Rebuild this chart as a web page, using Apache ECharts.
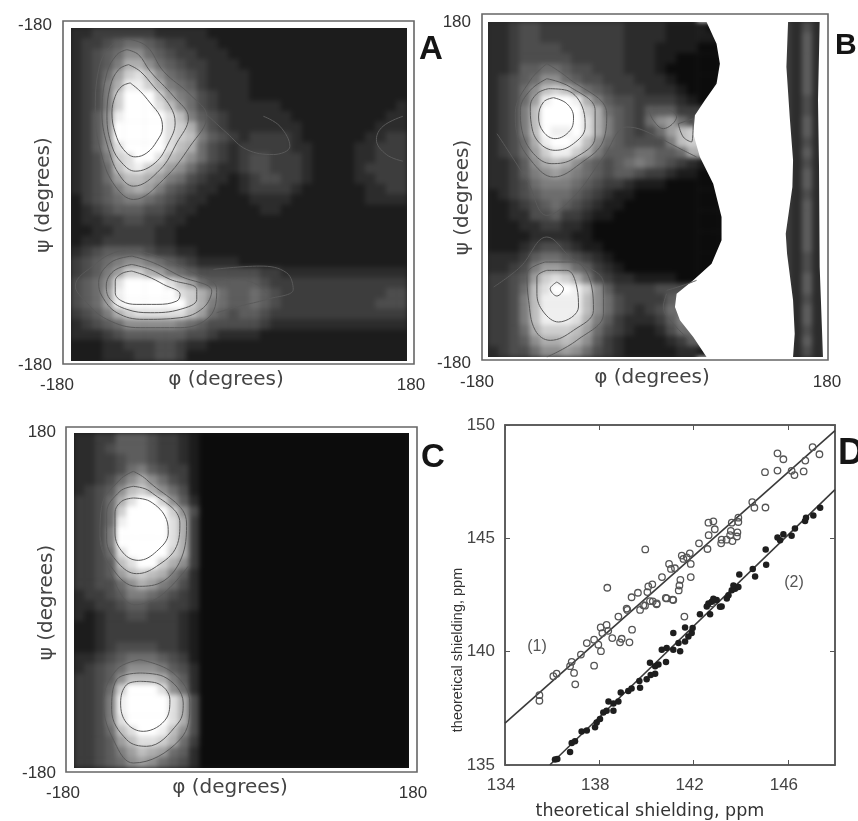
<!DOCTYPE html>
<html><head><meta charset="utf-8">
<style>html,body{margin:0;padding:0;background:#fff}
#h,#c{position:absolute;left:0;top:0;width:858px;height:821px}
#h{filter:blur(2.6px)}</style>
<script src="https://cdn.jsdelivr.net/npm/echarts@6/dist/echarts.min.js"></script>
</head><body><div id="h"></div><div id="c"></div>
<script>
// Gray level of each cell: 0 black .. f white, '.' = no data (white)
const heatA = [
"2233 3333 2222 2111 1111 1111 1111 1111",
"2334 5665 4332 2211 1111 1111 1111 1111",
"2345 6886 5433 2221 1111 1111 1111 1111",
"2345 7aa8 6543 3222 1111 1111 1111 1111",
"2346 9cdb 8654 3222 2111 1111 1111 1111",
"2347 aeec a765 3222 2111 1111 1111 1111",
"2347 cfff c976 4322 2111 1111 1111 1111",
"2347 cfff db86 4322 2222 1111 1111 1112",
"2358 efff fdb7 5432 2222 2111 1111 1122",
"2358 ffff fdca 6432 2222 2211 1111 1222",
"2358 ffff fdcb 7543 2333 3211 1111 2233",
"2358 dfff fdba 6432 3333 3221 1112 2333",
"2347 cdff dba8 6432 3443 3321 1112 2333",
"2346 bdec b986 4322 3443 3321 1112 3333",
"2346 9bba 9764 3221 2344 3321 1112 2333",
"2345 79a9 7543 2211 2333 3211 1111 2233",
"1345 6776 5432 2111 1222 2111 1111 2222",
"1234 5554 4322 1111 1122 1111 1111 1111",
"1223 3443 3221 1111 1111 1111 1111 1111",
"1122 3333 2211 1111 1111 1111 1111 1111",
"1223 3333 2211 1111 1111 1111 1111 1111",
"2345 5554 3322 1111 1111 1111 1111 1111",
"3456 7887 6543 2222 1111 1111 1111 1111",
"3457 9cca 9765 4444 4433 2222 2222 2222",
"4568 dfff fdb9 6555 5543 3333 3333 3333",
"4569 efff ffdc a865 5654 3333 3333 3344",
"4569 efff fffc a765 5654 3333 3333 3444",
"3457 acdd dddb 9654 5543 3333 3333 3333",
"2345 6888 8876 5444 4432 2222 2222 2222",
"2223 4555 5554 4322 2211 1111 1111 1111",
"1112 2333 4432 2111 1111 1111 1111 1111",
"1112 2233 4431 1111 1111 1111 1111 1111"];

const heatB = [
"2234 4333 3333 3222 2111 10.. .... 3242",
"2234 4333 3333 3222 2111 110. .... 3252",
"2234 4443 3333 3222 1111 000. .... 3252",
"2234 4444 3333 3222 1100 000. .... 3252",
"2235 5665 4433 3222 1000 000. .... 3252",
"2345 6886 5443 3322 2100 000. .... 3252",
"2346 8bcb 8654 3332 2210 00.. .... 3252",
"2346 9eff ea75 4433 3321 00.. .... 3242",
"2347 bfff fca6 5435 5533 3... .... 3242",
"2347 bfff fda7 5436 8964 4... .... 3252",
"2347 bfee fda7 5434 69bc c... .... 3252",
"2346 aeff eb86 5444 47bc c... .... 3242",
"2346 9cee ca75 5566 556a a... .... 3252",
"2235 8aba 8654 5676 5432 11.. .... 3242",
"2235 7898 7654 5543 3211 00.. .... 3252",
"2234 6777 6543 3211 1000 000. .... 3252",
"1234 5666 5432 1100 0000 000. .... 3242",
"1123 4565 4321 1000 0000 000. .... 3252",
"1122 4453 3211 0000 0000 000. .... 3252",
"1112 2332 2100 0000 0000 000. .... 3252",
"1111 2222 1100 0000 0000 000. .... 3252",
"1112 3443 2110 0000 0000 000. .... 3252",
"2223 5665 4321 0000 0000 000. .... 3242",
"2234 7998 6532 1000 0000 00.. .... 3242",
"3345 9cdc a743 2211 1100 0... .... 3252",
"3346 bdff ec85 3333 4445 .... .... 3252",
"3347 beee eb86 4333 356. .... .... 3242",
"3347 beee eb86 4323 466. .... .... 3252",
"3347 beee da75 3222 3577 .... .... 3252",
"3346 accc b964 3211 2466 .... .... 3242",
"3345 8aab a853 2111 1235 5... .... 3252",
"2344 6889 8643 2111 1122 11.. .... 3242"];

const heatC = [
"2233 5554 3321 0000 0000 0000 0000 0000",
"2234 5554 3321 0000 0000 0000 0000 0000",
"2233 4554 3321 0000 0000 0000 0000 0000",
"2233 4675 4331 0000 0000 0000 0000 0000",
"2234 68a8 6431 0000 0000 0000 0000 0000",
"2345 8bca 8641 0000 0000 0000 0000 0000",
"3346 adff c852 0000 0000 0000 0000 0000",
"3346 cfff fc84 0000 0000 0000 0000 0000",
"3346 efff fda3 0000 0000 0000 0000 0000",
"3347 ffff fda3 0000 0000 0000 0000 0000",
"3347 ffff fda3 0000 0000 0000 0000 0000",
"3346 dfff fca3 0000 0000 0000 0000 0000",
"3345 bdff ca83 0000 0000 0000 0000 0000",
"3345 9bcb a752 0000 0000 0000 0000 0000",
"3344 68a9 7642 0000 0000 0000 0000 0000",
"2334 5776 5432 0000 0000 0000 0000 0000",
"2233 4554 4332 0000 0000 0000 0000 0000",
"2123 3443 3321 0000 0000 0000 0000 0000",
"1123 3333 3321 0000 0000 0000 0000 0000",
"1123 3333 3321 0000 0000 0000 0000 0000",
"1123 4444 3321 0000 0000 0000 0000 0000",
"2234 5666 5431 0000 0000 0000 0000 0000",
"2345 6888 7542 0000 0000 0000 0000 0000",
"3345 8bbb a752 0000 0000 0000 0000 0000",
"3346 cfff d862 0000 0000 0000 0000 0000",
"3347 efff fda4 0000 0000 0000 0000 0000",
"3347 efff fda4 0000 0000 0000 0000 0000",
"3347 dfff fda4 0000 0000 0000 0000 0000",
"3346 bdff eb84 0000 0000 0000 0000 0000",
"3345 9bdd ca63 0000 0000 0000 0000 0000",
"3345 79ba 9652 0000 0000 0000 0000 0000",
"3345 6898 6542 0000 0000 0000 0000 0000"];

// Contour lines traced on the scan (scan coordinates of each panel's axes)
const contoursA = [
[[390,250],[420,275],[450,310],[480,350],[487,385],[470,425],[440,460],[405,472],[370,450],[345,400],[335,340],[345,290],[365,260]],
[[385,195],[420,215],[460,260],[510,320],[525,370],[505,430],[465,490],[405,515],[365,490],[335,440],[320,350],[330,260],[355,210]],
[[380,150],[415,165],[450,215],[520,290],[565,355],[530,430],[480,510],[400,560],[360,530],[325,450],[305,340],[320,220],[350,165]],
[[385,118],[440,140],[490,215],[570,285],[620,350],[570,440],[490,540],[400,600],[345,560],[305,470],[285,340],[295,210],[335,135]],
[[395,815],[440,830],[490,855],[540,885],[530,905],[470,915],[410,915],[365,905],[345,880],[345,845],[365,822]],
[[395,795],[450,810],[510,840],[590,870],[590,900],[540,930],[450,940],[380,930],[330,900],[318,860],[340,815]],
[[395,770],[460,790],[540,830],[635,875],[610,925],[540,955],[430,960],[350,940],[305,890],[295,850],[330,790]],
[[390,750],[470,770],[560,810],[650,870],[630,950],[540,985],[420,985],[320,960],[250,900],[225,860],[290,790],[340,760]]];
const tracesA = [
[[640,845],[700,840],[760,850],[800,880]],
[[650,940],[720,920],[800,900],[880,870],[860,820],[780,800],[640,810]],
[[620,345],[680,400],[740,450],[820,465],[870,440],[840,380],[790,350]],
[[1210,350],[1150,380],[1130,420],[1160,465],[1210,485]]];
const contoursB = [
[[370,292],[410,310],[430,350],[420,390],[375,415],[340,395],[325,350],[340,305]],
[[355,265],[410,270],[460,330],[465,380],[430,430],[375,450],[325,425],[303,370],[300,320],[320,280]],
[[350,235],[420,260],[495,330],[495,410],[430,475],[365,490],[310,460],[275,390],[270,330],[300,270]],
[[350,190],[410,230],[530,340],[520,420],[450,490],[370,530],[310,490],[260,400],[255,340],[300,240]],
[[655,325],[700,325],[740,350],[700,385],[670,360]],
[[745,370],[790,355],[785,425],[760,410]],
[[380,845],[400,865],[380,887],[360,865]],
[[350,810],[410,810],[440,860],[445,920],[385,965],[340,935],[320,880],[320,830]],
[[345,785],[430,785],[485,860],[490,930],[430,990],[360,1020],[315,990],[295,900],[290,820]]];
const tracesB = [
[[200,400],[290,540],[350,645],[430,590],[520,470],[590,380],[640,390],[760,450],[800,470]],
[[190,860],[270,800],[350,710],[420,770],[520,850],[520,940],[440,1020],[350,1070]],
[[710,880],[700,920],[730,970],[780,1020]],
[[710,870],[760,855],[800,840]]];
const contoursC = [
[[400,265],[450,275],[500,330],[505,370],[470,425],[415,452],[370,430],[345,370],[345,310],[365,275]],
[[400,230],[450,245],[540,340],[530,410],[470,470],[410,492],[355,460],[320,390],[320,310],[360,245]],
[[400,185],[440,210],[560,340],[550,430],[480,520],[410,530],[340,480],[300,380],[305,290],[360,210]],
[[420,815],[470,820],[510,870],[500,925],[430,965],[380,940],[362,880],[380,825]],
[[420,790],[490,800],[550,880],[535,940],[440,1010],[380,990],[335,900],[350,810]],
[[420,750],[520,790],[570,880],[540,990],[400,1060],[350,1010],[310,880],[350,780]]];
const tracesC = [
[[300,380],[340,510],[405,585],[480,560],[565,470]]];
// Outline of the no-data (white) regions of panel B, traced on the scan
const noDataMainB = [[830,65],[860,130],[870,190],[860,250],[825,300],[795,345],[790,400],[810,470],[850,550],[875,650],[875,720],[845,790],[790,840],[740,880],[735,920],[750,960],[790,1010],[830,1070],[1090,1070],[1095,1000],[1090,900],[1072,760],[1068,700],[1088,560],[1090,480],[1080,350],[1070,200],[1075,65]];
const noDataEdgeB = [[1170,65],[1165,300],[1168,500],[1170,800],[1180,1070],[1181,65]];

const openPts = [[147.05,149.02],[147.34,148.71],[145.56,148.75],[145.81,148.49],[146.74,148.43],[146.16,147.98],[146.28,147.79],[146.67,147.95],[145.56,147.99],[145.03,147.92],[144.49,146.6],[144.58,146.35],[145.05,146.36],[143.9,145.91],[143.9,145.72],[143.62,145.69],[142.63,145.69],[142.84,145.75],[142.9,145.4],[142.64,145.14],[143.58,145.33],[143.86,145.26],[143.84,145.08],[143.55,145.14],[143.4,144.94],[143.65,144.88],[143.19,144.94],[143.17,144.78],[142.23,144.78],[142.59,144.53],[139.95,144.51],[141.84,144.34],[141.5,144.24],[141.71,144.16],[141.57,144.09],[141.88,143.87],[140.96,143.87],[141.04,143.65],[141.21,143.68],[141.88,143.29],[140.66,143.29],[141.44,143.17],[141.4,142.92],[141.37,142.7],[138.34,142.82],[140.25,142.97],[140.08,142.88],[140.04,142.63],[139.64,142.6],[139.37,142.4],[140.82,142.37],[141.11,142.3],[140.27,142.22],[140.43,142.09],[139.87,142.05],[139.16,141.9],[140.15,142.23],[140.44,142.13],[140.86,142.35],[141.14,142.28],[139.73,141.84],[139.94,142.03],[139.19,141.84],[138.81,141.55],[138.06,141.07],[138.31,141.18],[138.13,140.82],[138.38,140.92],[138.55,140.6],[138.95,140.57],[138.88,140.41],[139.28,140.41],[139.39,140.97],[137.78,140.53],[137.47,140.38],[137.96,140.31],[138.07,140.02],[137.22,139.87],[136.83,139.55],[136.76,139.36],[136.93,139.06],[136.19,139.03],[136.05,138.92],[137.78,139.38],[136.98,138.56],[135.46,138.08],[135.46,137.83],[141.61,141.55],[142.77,142.13]];
const filledPts = [[136.12,135.24],[136.22,135.27],[136.76,135.57],[136.83,135.97],[136.97,136.05],[137.25,136.48],[137.47,136.52],[137.82,136.66],[137.89,136.88],[138.03,137.03],[138.17,137.32],[138.31,137.39],[138.6,137.39],[138.39,137.8],[138.6,137.71],[138.81,137.8],[138.91,138.2],[139.23,138.27],[139.37,138.38],[139.73,138.41],[139.7,138.71],[140.01,138.78],[140.18,138.97],[140.37,139.03],[140.15,139.51],[140.37,139.36],[140.51,139.43],[140.83,139.54],[140.65,140.09],[140.86,140.16],[141.14,140.09],[141.43,140.02],[141.36,140.38],[141.64,140.45],[141.78,140.67],[141.92,140.82],[141.64,141.07],[141.96,141.04],[141.14,140.82],[142.27,141.65],[142.7,141.65],[142.56,141.99],[142.77,142.2],[143.19,141.99],[142.98,142.28],[143.41,142.35],[142.84,142.34],[142.63,142.12],[143.12,141.98],[143.62,142.71],[143.76,142.78],[143.9,142.85],[143.48,142.49],[143.94,143.4],[144.51,143.65],[144.61,143.32],[145.06,144.51],[145.08,143.84],[145.56,145.04],[145.67,144.92],[145.81,145.18],[146.16,145.11],[146.3,145.43],[146.73,145.77],[146.77,145.91],[147.08,146.01],[147.37,146.35],[143.69,142.92]];
const fitLine1 = [[134,136.85],[148,149.75]];
const fitLine2 = [[135.9,135],[148,147.15]];
const xTicksD = [134,138,142,146];
const yTicksD = [135,140,145,150];
const xLabels = ['-180','180'];
const yLabelsA = ['-180','-180'];
const yLabelsBC = ['180','-180'];
const phiName = 'φ (degrees)', psiName = 'ψ (degrees)', shieldName = 'theoretical shielding, ppm';

const SANS = '"Liberation Sans", Arial, sans-serif';
const NAMEF = '"DejaVu Sans", sans-serif';

function cells(rows){
  const out=[];
  rows.forEach((r,j)=>{ r.replace(/ /g,'').split('').forEach((c,i)=>{ if(c!=='.') out.push([i,j,parseInt(c,16)]); }); });
  return out;
}
const idx = Array.from({length:32},(_,i)=>i);
const heats = [heatA,heatB,heatC];
const heatBoxes = [[71,28,336,333],[488,22,335,335],[74,433,335,335]];
const scanExtents = [[212,1222,85,1085],[173,1180,65,1070],[222,1228,70,1075]];
const contourSets = [[contoursA,tracesA],[contoursB,tracesB],[contoursC,tracesC]];
const labelBoxes = [
  {left:57,top:25,width:354,height:340,yl:yLabelsA,yMargin:5,xMargin:12,psiGap:3,phiPad:[0,16,0,0],psiPad:[0,0,0,0],shift:0},
  {left:477,top:22,width:350,height:341,yl:yLabelsBC,yMargin:6,xMargin:11,psiGap:4,phiPad:[0,0,0,0],psiPad:[0,10,0,0],shift:1},
  {left:63,top:432,width:350,height:341,yl:yLabelsBC,yMargin:7,xMargin:12,psiGap:6,phiPad:[0,16,0,0],psiPad:[0,0,0,0],shift:0}];

// ---- heat layer (softened by the page's CSS, like the scanned original)
const hGrid=[],hX=[],hY=[],hSeries=[];
heatBoxes.forEach((b,k)=>{
  hGrid.push({left:b[0],top:b[1],width:b[2],height:b[3]});
  hX.push({type:'category',gridIndex:k,data:idx,show:false});
  hY.push({type:'category',gridIndex:k,data:idx,show:false,inverse:true});
  hSeries.push({type:'heatmap',xAxisIndex:k,yAxisIndex:k,data:cells(heats[k]),progressive:0,animation:false,emphasis:{disabled:true},
    itemStyle:{borderWidth:0}});
});
function under(x,y,w,h,c){return {type:'rect',silent:true,z:-1,shape:{x,y,width:w,height:h},style:{fill:c}};}
const heatChart=echarts.init(document.getElementById('h'),null,{renderer:'canvas'});
heatChart.setOption({animation:false,backgroundColor:'#fff',grid:hGrid,xAxis:hX,yAxis:hY,series:hSeries,
  visualMap:{show:false,min:0,max:15,seriesIndex:[0,1,2],dimension:2,inRange:{color:['#0c0c0c','#ffffff']}},
  graphic:[under(65,22,348,345,'#1e1e1e'),under(482,16,215,347,'#242424'),under(786,16,40,347,'#282828'),under(68,427,347,347,'#161616')]});

// ---- foreground layer
const grid=[],xAxis=[],yAxis=[],series=[];
labelBoxes.forEach((b,k)=>{
  const g=grid.length;
  grid.push({left:b.left,top:b.top,width:b.width,height:b.height});
  const base={gridIndex:g,type:'value',min:-180,max:180,axisLine:{show:false},axisTick:{show:false},splitLine:{show:false},nameLocation:'middle',nameMoveOverlap:false};
  xAxis.push(Object.assign({},base,{
    name:phiName,nameGap:5,nameTextStyle:{fontFamily:NAMEF,fontSize:20,color:'#444',padding:b.phiPad},
    axisLabel:{customValues:[-180,180],margin:b.xMargin,fontFamily:SANS,fontSize:17,color:'#333',showMinLabel:true,showMaxLabel:true,
      formatter:(v,i)=> b.shift&&v===180 ? '{s|180}' : xLabels[v===180?1:0],
      rich:{s:{fontFamily:SANS,fontSize:17,color:'#333',padding:[0,0,18,0]}}}
  }));
  yAxis.push(Object.assign({},base,{
    name:psiName,nameGap:b.psiGap,nameTextStyle:{fontFamily:NAMEF,fontSize:20,color:'#444',padding:b.psiPad},
    axisLabel:{customValues:[-180,180],margin:b.yMargin,fontFamily:SANS,fontSize:17,color:'#333',showMinLabel:true,showMaxLabel:true,
      formatter:v=> v===180 ? b.yl[0] : b.yl[1]}
  }));
});
// Panel D
const gd=grid.length;
grid.push({left:505,top:425,width:330,height:343,show:true,borderColor:'#555',borderWidth:1.5,backgroundColor:'transparent'});
const ix=xAxis.length, iy=yAxis.length;
const noLine={show:true,lineStyle:{color:'#555',width:1.5}};
xAxis.push({gridIndex:gd,type:'value',min:134,max:148,axisLine:noLine,splitLine:{show:false},
  axisTick:{customValues:xTicksD,inside:true,length:5,lineStyle:{color:'#555'}},
  axisLabel:{customValues:xTicksD,margin:12,formatter:v=>'{a|'+v+'}',rich:{a:{fontFamily:SANS,fontSize:17,color:'#444',padding:[0,8,0,0]}}},
  name:shieldName,nameLocation:'middle',nameGap:37,nameMoveOverlap:false,nameTextStyle:{fontFamily:NAMEF,fontSize:17.5,color:'#333',padding:[0,40,0,0]}});
xAxis.push({gridIndex:gd,type:'value',position:'top',min:134,max:148,axisLine:noLine,splitLine:{show:false},
  axisTick:{customValues:xTicksD,inside:true,length:5,lineStyle:{color:'#555'}},axisLabel:{show:false}});
yAxis.push({gridIndex:gd,type:'value',min:135,max:150,interval:5,axisLine:noLine,splitLine:{show:false},
  axisTick:{customValues:yTicksD,inside:true,length:5,lineStyle:{color:'#555'}},
  axisLabel:{margin:10,fontFamily:SANS,fontSize:17,color:'#444'},
  name:shieldName,nameLocation:'middle',nameGap:40,nameMoveOverlap:false,nameTextStyle:{fontFamily:SANS,fontSize:14.5,color:'#333',padding:[0,110,0,0]}});
yAxis.push({gridIndex:gd,type:'value',position:'right',min:135,max:150,interval:5,axisLine:noLine,splitLine:{show:false},
  axisTick:{customValues:yTicksD,inside:true,length:5,lineStyle:{color:'#555'}},axisLabel:{show:false}});
const lineStyle={color:'#3a3a3a',width:1.6};
series.push({type:'line',xAxisIndex:ix,yAxisIndex:iy,data:fitLine1,showSymbol:false,lineStyle,animation:false,z:3,clip:true});
series.push({type:'line',xAxisIndex:ix,yAxisIndex:iy,data:fitLine2,showSymbol:false,lineStyle,animation:false,z:3,clip:true});
series.push({type:'scatter',xAxisIndex:ix,yAxisIndex:iy,data:openPts,symbol:'circle',symbolSize:6.5,itemStyle:{color:'rgba(255,255,255,0)',borderColor:'#555',borderWidth:1.3,opacity:1},animation:false,z:4});
series.push({type:'scatter',xAxisIndex:ix,yAxisIndex:iy,data:filledPts,symbol:'circle',symbolSize:6.5,itemStyle:{color:'#1e1e1e',opacity:1},animation:false,z:5});

// contour grids share the heat boxes
heatBoxes.forEach((b,k)=>{
  const g=grid.length, e=scanExtents[k];
  grid.push({left:b[0],top:b[1],width:b[2],height:b[3]});
  const xi=xAxis.length, yi=yAxis.length;
  xAxis.push({type:'value',gridIndex:g,min:e[0],max:e[1],show:false});
  yAxis.push({type:'value',gridIndex:g,min:e[2],max:e[3],inverse:true,show:false});
  if(k===1){
    [noDataMainB,noDataEdgeB].forEach(poly=>series.push({type:'custom',xAxisIndex:xi,yAxisIndex:yi,data:poly,clip:true,silent:true,z:1,animation:false,
      renderItem:(params,api)=>{
        if(params.dataIndex!==0) return null;
        return {type:'polygon',shape:{points:poly.map(p=>api.coord(p)),smooth:0},style:{fill:'#fff',stroke:null}};
      }}));
  }
  const add=(pts,closed)=>series.push({type:'line',xAxisIndex:xi,yAxisIndex:yi,data:closed?pts.concat([pts[0]]):pts,smooth:0.4,showSymbol:false,
    lineStyle:{color:'#5a5a5a',width:1},animation:false,z:2,silent:true});
  contourSets[k][0].forEach(p=>add(p,true));
  contourSets[k][1].forEach(p=>add(p,false));
});

function frame(x0,y0,x1,y1){return {type:'rect',silent:true,z:1,shape:{x:x0,y:y0,width:x1-x0,height:y1-y0},style:{fill:null,stroke:'#666',lineWidth:1.6}};}
function mask(b,w){return {type:'rect',silent:true,z:0,shape:{x:b[0]-w/2,y:b[1]-w/2,width:b[2]+w,height:b[3]+w},style:{fill:null,stroke:'#fff',lineWidth:w}};}
function letter(t,x,y,s){return {type:'text',silent:true,z:10,style:{text:t,x,y,font:'bold '+s+'px "Liberation Sans"',fill:'#151515'}};}
function note(t,x,y){return {type:'text',silent:true,z:10,style:{text:t,x,y,font:'16px "Liberation Sans"',fill:'#555',textAlign:'center',textVerticalAlign:'middle'}};}

const chart=echarts.init(document.getElementById('c'),null,{renderer:'canvas'});
chart.setOption({
  animation:false,backgroundColor:'transparent',
  grid,xAxis,yAxis,series,
  graphic:[mask(heatBoxes[0],17),mask(heatBoxes[1],17),mask(heatBoxes[2],17),
    frame(63,21,414,364),frame(482,14,828,360),frame(66,427,417,772),
    letter('A',419,33,33),letter('B',835,31,30),letter('C',421,441,33),letter('D',838,436,36),
    note('(1)',537,647),note('(2)',794,583)]
});
</script></body></html>
